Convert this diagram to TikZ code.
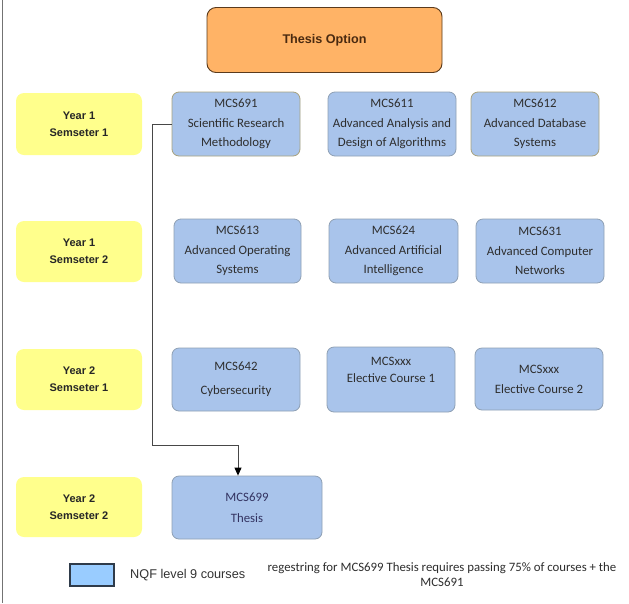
\documentclass[tikz,border=0pt]{standalone}
\usepackage{fontspec}
\setmainfont{Liberation Sans}
\newfontfamily\cfont{Carlito}
\usetikzlibrary{arrows.meta,calc}
\definecolor{cfill}{HTML}{A9C4EB}
\definecolor{cedge}{HTML}{8FA0B4}
\definecolor{cedgeb}{HTML}{A8A27E}
\definecolor{yfill}{HTML}{FFFF8C}
\definecolor{ofill}{HTML}{FFB366}
\definecolor{oedge}{HTML}{5A3A1C}
\definecolor{otext}{HTML}{4A2A10}
\definecolor{ctext}{HTML}{2E2E2E}
\definecolor{lfill}{HTML}{99CCFF}
\definecolor{ledge}{HTML}{2F3B4A}
\tikzset{
  x=1pt,y=-1pt,
  course/.style={rectangle,rounded corners=7pt,fill=cfill,draw=cedge,line width=0.8pt,
    inner sep=0pt,align=center,text=ctext,font=\cfont\fontsize{12.8}{19.5}\selectfont},
  yearbox/.style={rectangle,rounded corners=8pt,fill=yfill,draw=none,inner sep=0pt,
    minimum width=126pt,align=center,font=\bfseries\fontsize{11}{17}\selectfont,text=black!85},
  conn/.style={draw=black!72,line width=1pt},
}
\begin{document}
\begin{tikzpicture}
\useasboundingbox (0,0) rectangle (629,603);
\fill[white] (0,0) rectangle (629,603);
\draw[black!55,line width=1pt] (2,0) -- (2,603);

% title
\node[rectangle,rounded corners=9pt,fill=ofill,draw=oedge,line width=0.9pt,
  minimum width=235pt,minimum height=65pt,inner sep=0pt,text=otext,
  font=\bfseries\fontsize{12.6}{14}\selectfont] (title) at (324.5,40) {Thesis Option};

% year labels
\node[yearbox,minimum height=62pt] (y1) at (79,124) {Year 1\\Semseter 1};
\node[yearbox,minimum height=61pt] (y2) at (79,251.5) {Year 1\\Semseter 2};
\node[yearbox,minimum height=61pt] (y3) at (79,379.5) {Year 2\\Semseter 1};
\node[yearbox,minimum height=60pt] (y4) at (79,507) {Year 2\\Semseter 2};

% row 1
\node[course,draw=cedgeb,minimum width=128pt,minimum height=64pt] (m691) at (236,124)
  {MCS691\\Scientific Research\\Methodology};
\node[course,minimum width=128pt,minimum height=64pt] (m611) at (392,124)
  {MCS611\\Advanced Analysis and\\Design of Algorithms};
\node[course,draw=cedgeb,minimum width=128pt,minimum height=64pt] (m612) at (535,124)
  {MCS612\\Advanced Database\\Systems};

% row 2
\node[course,minimum width=127pt,minimum height=64pt] (m613) at (237.5,251)
  {MCS613\\Advanced Operating\\Systems};
\node[course,minimum width=129pt,minimum height=64pt] (m624) at (393.5,251)
  {MCS624\\Advanced Artificial\\Intelligence};
\node[course,minimum width=128pt,minimum height=64pt] (m631) at (540,251)
  {MCS631\\Advanced Computer\\Networks};

% row 3
\node[course,minimum width=128pt,minimum height=63pt,
  font=\cfont\fontsize{12.8}{24}\selectfont] (m642) at (236,379.5)
  {MCS642\\Cybersecurity};
\node[course,minimum width=128pt,minimum height=65pt] (e1) at (391,379.5) {};
\node[align=center,text=ctext,inner sep=0pt,font=\cfont\fontsize{12.8}{17}\selectfont]
  (e1t) at (391,369.5) {MCSxxx\\Elective Course 1};
\node[course,minimum width=128pt,minimum height=62pt,
  font=\cfont\fontsize{12.8}{20}\selectfont] (e2) at (539,379)
  {MCSxxx\\Elective Course 2};

% row 4
\node[course,minimum width=150pt,minimum height=63pt,text=black!70!blue!60!gray,
  font=\cfont\fontsize{12.8}{21}\selectfont] (m699) at (247,507.5)
  {MCS699\\Thesis};

% connector
\coordinate (j1) at (152,445);
\coordinate (j2) at (238,445);
\draw[conn] (m691.west) -| (j1) -- (j2);
\draw[conn,-{Triangle[length=8pt,width=7pt,color=black]}] (j2) -- (j2 |- m699.north);

% legend
\node[rectangle,fill=lfill,draw=ledge,line width=1.2pt,minimum width=44pt,
  minimum height=22pt,inner sep=0pt] (leg) at (92,575) {};
\node[anchor=west,inner sep=0pt,font=\fontsize{12.7}{14}\selectfont,text=black!80]
  (legt) at (130,575) {NQF level 9 courses};
\node[align=center,inner sep=0pt,text=ctext,font=\cfont\fontsize{12.8}{15}\selectfont]
  (note) at (442,575) {regestring for MCS699 Thesis requires passing 75\% of courses + the\\MCS691};
\end{tikzpicture}
\end{document}
